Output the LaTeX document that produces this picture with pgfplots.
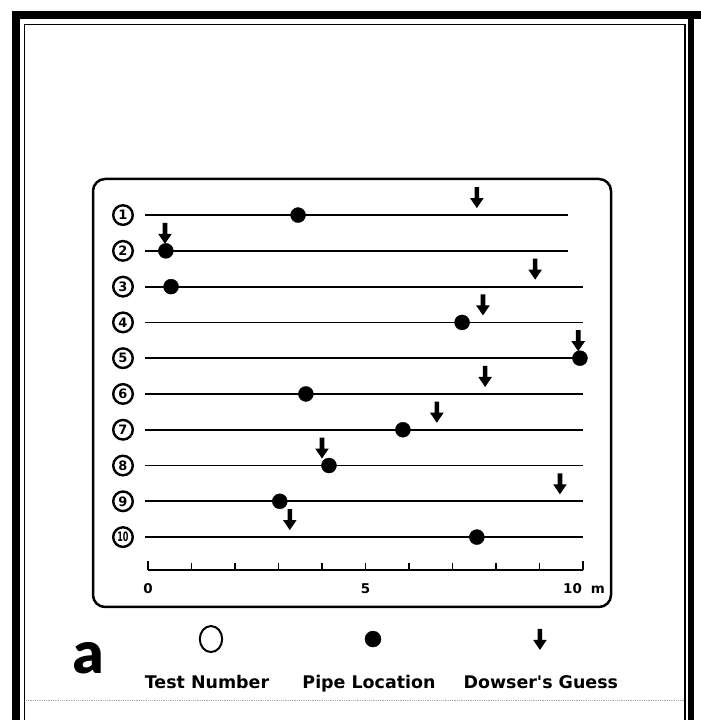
\documentclass[border=0pt]{standalone}
\usepackage{graphicx}
\usepackage{fontspec}
\usepackage{pgfplots}
\pgfplotsset{compat=1.18}
\newfontfamily\blk{Lato}[UprightFont=* Black]
\newfontfamily\dvb{DejaVu Sans}[UprightFont=* Bold]

\pgfdeclareplotmark{darrow}{%
  \pgfpathmoveto{\pgfpoint{0bp}{7bp}}%
  \pgfpathlineto{\pgfpoint{-6.8bp}{17bp}}%
  \pgfpathlineto{\pgfpoint{-2.3bp}{17bp}}%
  \pgfpathlineto{\pgfpoint{-2.3bp}{28bp}}%
  \pgfpathlineto{\pgfpoint{2.3bp}{28bp}}%
  \pgfpathlineto{\pgfpoint{2.3bp}{17bp}}%
  \pgfpathlineto{\pgfpoint{6.8bp}{17bp}}%
  \pgfpathclose
  \pgfusepathqfill}

\pgfplotstableread{
x y
3.45 -1
0.41 -2
0.53 -3
7.22 -4
9.93 -5
3.63 -6
5.86 -7
4.16 -8
3.03 -9
7.56 -10
}\pipe

\pgfplotstableread{
x y
7.56 -1
0.39 -2
8.90 -3
7.70 -4
9.89 -5
7.75 -6
6.64 -7
4.00 -8
9.47 -9
3.26 -10
}\guess

\pgfplotstableread{
x y label
-0.575 -1 1
-0.575 -2 2
-0.575 -3 3
-0.575 -4 4
-0.575 -5 5
-0.575 -6 6
-0.575 -7 7
-0.575 -8 8
-0.575 -9 9
-0.575 -10 \scalebox{0.62}[1]{10}
}\tests

\begin{document}
\begin{tikzpicture}
\path[use as bounding box] (0,0) rectangle (701bp,720bp);
% outer frame
\fill[black] (12bp,-10bp) rectangle (20bp,709bp);
\fill[black] (12bp,701bp) rectangle (710bp,709bp);
\fill[black] (688bp,-10bp) rectangle (694bp,709bp);
\draw[line width=1.6bp] (24.5bp,-10bp) -- (24.5bp,695.5bp) -- (685bp,695.5bp) -- (685bp,-10bp);
\draw[gray!70, densely dotted, line width=0.8bp] (26bp,20bp) -- (684bp,20bp);
% panel
\draw[line width=2.5bp, rounded corners=12bp] (93bp,113bp) rectangle (611bp,541bp);

\begin{axis}[
  at={(148bp,150bp)}, anchor=south west,
  scale only axis, width=435bp, height=390.7bp,
  xmin=0, xmax=10, ymin=-10.92, ymax=0,
  clip=false,
  axis y line=none,
  axis x line*=bottom,
  axis line style={line width=2.4bp, -},
  xtick={0,1,...,10},
  xticklabels={0,,,,,5,,,,,{\hspace{2bp}10\hspace{9bp}m}},
  xtick align=inside,
  major tick length=7bp,
  tick style={line width=1.8bp, black},
  extra x ticks={0,10},
  extra x tick labels={},
  extra x tick style={major tick length=9bp},
  ticklabel style={font=\dvb\fontsize{13.5}{13.5}\selectfont},
  xticklabel style={yshift=-10bp},
  /pgf/number format/assume math mode=true,
]
% row lines
\addplot[line width=1.8bp] coordinates {(-0.07,-1) (9.66,-1)};
\addplot[line width=1.8bp] coordinates {(-0.07,-2) (9.66,-2)};
\addplot[line width=1.8bp] coordinates {(-0.07,-3) (10.0,-3)};
\addplot[line width=1.8bp] coordinates {(-0.07,-4) (10.0,-4)};
\addplot[line width=1.8bp] coordinates {(-0.07,-5) (10.0,-5)};
\addplot[line width=1.8bp] coordinates {(-0.07,-6) (10.0,-6)};
\addplot[line width=1.8bp] coordinates {(-0.07,-7) (10.0,-7)};
\addplot[line width=1.8bp] coordinates {(-0.07,-8) (10.0,-8)};
\addplot[line width=1.8bp] coordinates {(-0.07,-9) (10.0,-9)};
\addplot[line width=1.8bp] coordinates {(-0.07,-10) (10.0,-10)};
% test numbers
\addplot[only marks, mark=o, mark size=9.8bp,
  mark options={line width=2.4bp, fill=white, draw=black},
  nodes near coords, point meta=explicit symbolic,
  nodes near coords align=center,
  every node near coord/.style={anchor=center, inner sep=0pt, font=\dvb\fontsize{13}{13}\selectfont}]
  table[meta=label] {\tests};
% pipe locations
\addplot[only marks, mark=*, mark size=7.5bp, black] table {\pipe};
% dowser's guesses
\addplot[only marks, mark=darrow, black] table {\guess};

% legend symbols
\addplot[only marks, mark=o, mark size=13bp, mark options={xscale=0.86, line width=2bp, draw=black, fill=white}] coordinates {(1.448,-12.85)};
\addplot[only marks, mark=*, mark size=8bp, black] coordinates {(5.172,-12.85)};
\addplot[only marks, mark=darrow, black] coordinates {(9.01,-13.35)};
\node[anchor=base, font=\dvb\fontsize{17.5}{17.5}\selectfont] at (axis cs:1.356,-14.22) {Test Number};
\node[anchor=base, font=\dvb\fontsize{17.5}{17.5}\selectfont] at (axis cs:5.08,-14.22) {Pipe Location};
\node[anchor=base, font=\dvb\fontsize{17.5}{17.5}\selectfont] at (axis cs:9.03,-14.22) {Dowser's Guess};
\node[anchor=base, font=\blk\fontsize{59}{59}\selectfont] at (axis cs:-1.356,-13.8) {a};
\end{axis}
\end{tikzpicture}
\end{document}
